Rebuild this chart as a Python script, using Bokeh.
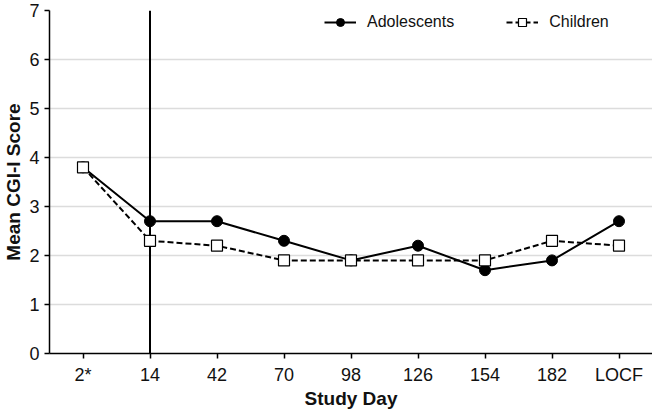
from bokeh.plotting import figure
from bokeh.models import Legend, LegendItem, FixedTicker, Range1d, FactorRange
from bokeh.embed import file_html
from bokeh.resources import INLINE

days = ["2*", "14", "42", "70", "98", "126", "154", "182", "LOCF"]
adolescents = [3.8, 2.7, 2.7, 2.3, 1.9, 2.2, 1.7, 1.9, 2.7]
children = [3.8, 2.3, 2.2, 1.9, 1.9, 1.9, 1.9, 2.3, 2.2]
y_ticks = [0, 1, 2, 3, 4, 5, 6, 7]
marker_day = "14"

FONT = "Liberation Sans"

p = figure(x_range=FactorRange(*days, range_padding=0), y_range=Range1d(0, 7),
           width=652, height=411, output_backend="svg", toolbar_location=None,
           min_border_left=44, min_border_right=0, min_border_top=10, min_border_bottom=50)
p.outline_line_color = None
p.background_fill_color = "white"
p.border_fill_color = "white"

p.xgrid.grid_line_color = None
p.ygrid.grid_line_color = "#dcdcdc"
p.ygrid.grid_line_width = 1.5
p.yaxis.ticker = FixedTicker(ticks=y_ticks)

for ax in (p.xaxis, p.yaxis):
    ax.axis_line_color = "black"
    ax.axis_line_width = 1.5
    ax.major_tick_line_color = "black"
    ax.major_tick_line_width = 1.5
    ax.major_tick_out = 5
    ax.major_tick_in = 0
    ax.minor_tick_line_color = None
    ax.major_label_text_font = FONT
    ax.major_label_text_font_size = "18px"
    ax.major_label_text_color = "#111111"
    ax.axis_label_text_font = FONT
    ax.axis_label_text_font_size = "19px"
    ax.axis_label_text_font_style = "bold"
    ax.axis_label_text_color = "#111111"

p.xaxis.axis_label = "Study Day"
p.yaxis.axis_label = "Mean CGI-I Score"
p.xaxis.major_label_standoff = 6
p.xaxis.axis_label_standoff = 0
p.yaxis.major_label_standoff = 5
p.yaxis.axis_label_standoff = 2

# vertical reference line at day 14
p.segment(x0=[marker_day], y0=[y_ticks[0]], x1=[marker_day], y1=[y_ticks[-1]],
          line_color="black", line_width=2)

la = p.line(days, adolescents, line_color="black", line_width=2)
sa = p.scatter(days, adolescents, marker="circle", size=11, fill_color="black", line_color="black")
lc = p.line(days, children, line_color="black", line_width=2, line_dash="6 3")
sc = p.scatter(days, children, marker="square", size=11, fill_color="white",
               line_color="black", line_width=1.2)

legend = Legend(items=[LegendItem(label="Adolescents", renderers=[la, sa]),
                       LegendItem(label="Children", renderers=[lc, sc])],
                orientation="horizontal", location=(275, 321),
                glyph_width=32, glyph_height=20, label_height=20,
                label_standoff=11, spacing=52, padding=0, margin=0,
                border_line_color=None, background_fill_alpha=0,
                label_text_font=FONT, label_text_font_size="16px",
                label_text_color="#111111")
p.add_layout(legend)

open("out.html", "w").write(file_html(p, INLINE))
